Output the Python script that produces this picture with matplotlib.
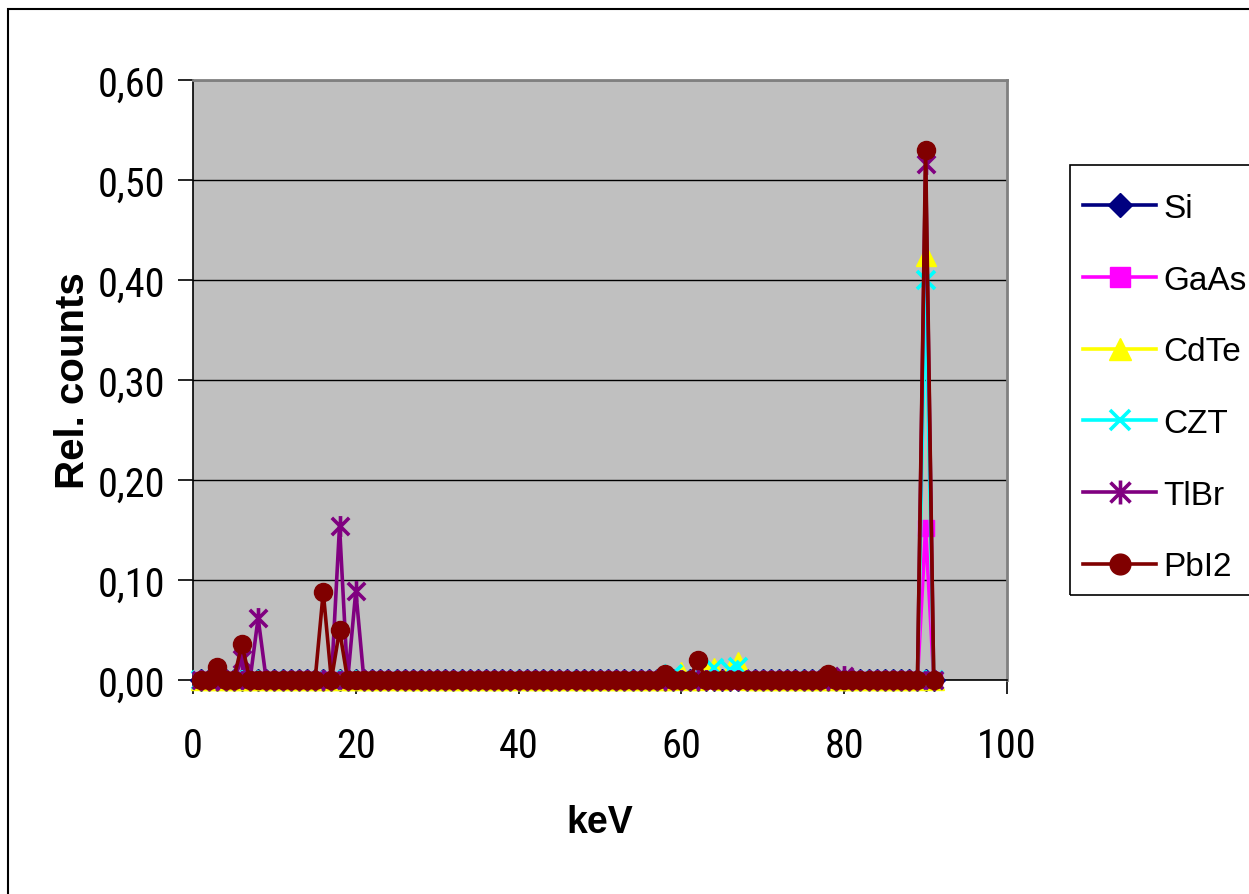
import matplotlib
matplotlib.use("Agg")
import matplotlib.pyplot as plt
from matplotlib.path import Path
from matplotlib.patches import Rectangle
import numpy as np

# energy channels (keV), one point per keV
energy_kev = list(range(1, 92))

# non-zero points; every other channel reads 0,00
si_peak_kev = [90]
si_peak_val = [0.0]
gaas_peak_kev = [90]
gaas_peak_val = [0.152]
cdte_peak_kev = [60, 63, 64, 66, 67, 90]
cdte_peak_val = [0.008, 0.011, 0.012, 0.010, 0.018, 0.424]
czt_peak_kev = [59, 64, 66, 67, 90]
czt_peak_val = [0.006, 0.012, 0.010, 0.013, 0.400]
tlbr_peak_kev = [6, 8, 18, 20, 80, 90]
tlbr_peak_val = [0.021, 0.062, 0.154, 0.089, 0.004, 0.516]
pbi2_peak_kev = [3, 6, 16, 18, 58, 62, 78, 90]
pbi2_peak_val = [0.013, 0.036, 0.088, 0.050, 0.006, 0.020, 0.006, 0.530]

series_names = ["Si", "GaAs", "CdTe", "CZT", "TlBr", "PbI2"]
legend_labels = ["Si", "GaAs", "CdTe", "CZT", "TlBr", "PbI2"]


def build_series(peak_kev, peak_val):
    y = np.zeros(len(energy_kev))
    for k, v in zip(peak_kev, peak_val):
        y[energy_kev.index(k)] = v
    return y


# Excel style "star" marker: X with a vertical bar
star_path = Path(
    [(-1, -1), (1, 1), (-1, 1), (1, -1), (0, -1.2), (0, 1.2)],
    [Path.MOVETO, Path.LINETO, Path.MOVETO, Path.LINETO, Path.MOVETO, Path.LINETO],
)

styles = {
    "Si": dict(color="#000080", marker="D", ms=11),
    "GaAs": dict(color="#FF00FF", marker="s", ms=12),
    "CdTe": dict(color="#FFFF00", marker="^", ms=14),
    "CZT": dict(color="#00FFFF", marker="x", ms=13, mew=2.6),
    "TlBr": dict(color="#800080", marker=star_path, ms=15, mew=2.6),
    "PbI2": dict(color="#800000", marker="o", ms=13),
}

data = {
    "Si": build_series(si_peak_kev, si_peak_val),
    "GaAs": build_series(gaas_peak_kev, gaas_peak_val),
    "CdTe": build_series(cdte_peak_kev, cdte_peak_val),
    "CZT": build_series(czt_peak_kev, czt_peak_val),
    "TlBr": build_series(tlbr_peak_kev, tlbr_peak_val),
    "PbI2": build_series(pbi2_peak_kev, pbi2_peak_val),
}

W, H = 1249, 895
fig = plt.figure(figsize=(W / 100, H / 100), dpi=100)
ax = fig.add_axes([193 / W, 1 - 681 / H, (1007 - 193) / W, (681 - 81) / H])
ax.set_facecolor("#C0C0C0")

# narrow face for the tick numbers, as in the original chart
tick_family = ["Liberation Sans Narrow", "Roboto Condensed", "DejaVu Sans Condensed",
               "Liberation Sans"]

handles = []
for name, label in zip(series_names, legend_labels):
    st = styles[name]
    (ln,) = ax.plot(energy_kev, data[name], color=st["color"], lw=2.6,
                    marker=st["marker"], ms=st["ms"], mew=st.get("mew", 1),
                    mfc=st["color"], mec=st["color"], clip_on=False, zorder=3,
                    label=label)
    handles.append(ln)

ax.set_xlim(0, 100)
ax.set_ylim(0, 0.6)
ax.set_xticks([0, 20, 40, 60, 80, 100])
ax.set_yticks([0, 0.1, 0.2, 0.3, 0.4, 0.5, 0.6])
ax.set_yticklabels([f"{v:.2f}".replace(".", ",") for v in ax.get_yticks()])
for lab in ax.get_xticklabels() + ax.get_yticklabels():
    lab.set_fontfamily(tick_family)
    lab.set_fontstretch("condensed")
    lab.set_fontsize(29)
ax.tick_params(axis="y", direction="out", length=11, width=1.2, pad=9)
ax.tick_params(axis="x", direction="out", length=10, width=1.2, pad=23)

ax.yaxis.grid(True, color="black", lw=1)
ax.set_axisbelow(True)
for side in ["top", "right"]:
    ax.spines[side].set_color("#808080")
    ax.spines[side].set_linewidth(2)
for side in ["left", "bottom"]:
    ax.spines[side].set_color("black")
    ax.spines[side].set_linewidth(1.2)

ax.set_ylabel("Rel. counts", fontsize=29, fontweight="bold",
              family="Liberation Sans", labelpad=4)
ax.set_xlabel("keV", fontsize=27, fontweight="bold",
              family="Liberation Sans", labelpad=28)

# legend frame (runs off the right edge like the original)
fig.patches.append(Rectangle((1070 / W, 1 - 596 / H), 200 / W, (596 - 166) / H,
                             transform=fig.transFigure, fill=False,
                             edgecolor="black", lw=1.2))
leg = fig.legend(handles=handles, loc="upper left",
                 bbox_to_anchor=(1083 / W, 1 - 194 / H),
                 frameon=False, prop=dict(family="Liberation Sans", size=24),
                 handlelength=2.2, handletextpad=0.2, labelspacing=1.22,
                 borderaxespad=0, borderpad=0, markerscale=1.15)

# outer chart border
fig.patches.append(Rectangle((8 / W, -0.1), 1.2, 1 - 10 / H + 0.1,
                             transform=fig.transFigure, fill=False,
                             edgecolor="black", lw=1.5))

fig.savefig("out.png", dpi=100)
